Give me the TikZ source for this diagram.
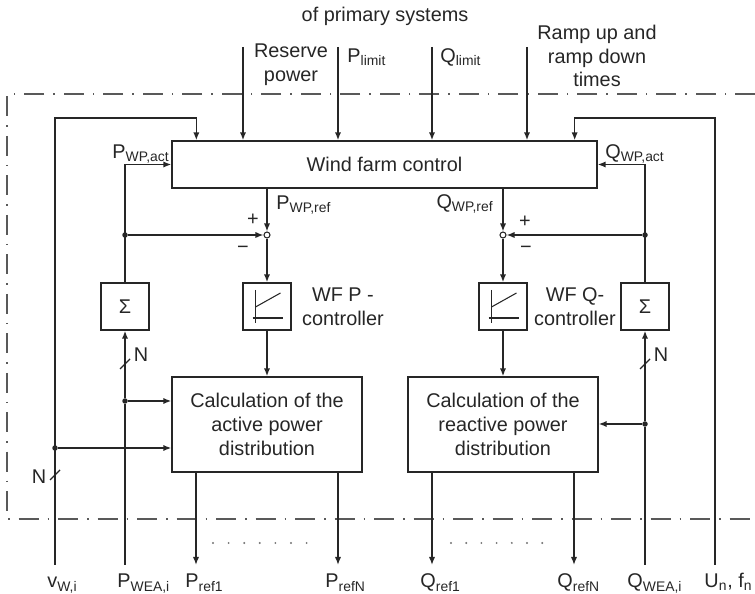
\documentclass[tikz,border=0pt]{standalone}
\usepackage{fontspec}
\setmainfont{Liberation Sans}
\usetikzlibrary{arrows.meta, positioning, calc}

\begin{document}
\begin{tikzpicture}[
    x=0.02cm, y=-0.02cm,
    color=black!85,
    font=\fontsize{11.3}{13.5}\selectfont,
    line width=0.8pt,
    box/.style={draw, align=center, inner sep=0pt},
    calcbox/.style={box, minimum width=3.8cm, minimum height=1.9cm},
    smallbox/.style={box, minimum width=0.96cm, minimum height=0.94cm},
    junct/.style={draw, circle, fill=white, minimum size=0.12cm, inner sep=0pt, line width=0.6pt},
    dot/.style={circle, fill, minimum size=0.11cm, inner sep=0pt},
    lbl/.style={inner sep=1pt, align=center},
    arrow/.style={-{Latex[length=1.6mm, width=1.25mm]}},
    frame/.style={draw=black!65, line width=0.9pt, dash pattern=on 0.4cm off 0.18cm on 0.03cm off 0.18cm}
]
\useasboundingbox (0,0) rectangle (755,594);

% system border
\draw[frame] (755,94) -- (7,94) -- (7,519) -- (755,519);

% blocks
\node[box, minimum width=8.5cm, minimum height=0.94cm] (wfc) at (384.5,164.5) {Wind farm control};
\node[junct] (jP) at (267,235) {};
\node[junct] (jQ) at (503,235) {};
\node[smallbox] (ctrlP) at (267,306.5) {};
\node[smallbox] (ctrlQ) at (503,306.5) {};
\node[smallbox] (sumP) at (125,306.5) {Σ};
\node[smallbox] (sumQ) at (645,306.5) {Σ};
\node[calcbox] (calcP) at (267,424.5) {Calculation of the\\active power\\distribution};
\node[calcbox] (calcQ) at (503,424.5) {Calculation of the\\reactive power\\distribution};

\node[lbl, right=0.16cm of ctrlP] (ctrlPL) {WF P -\\controller};
\node[lbl, right=0.08cm of ctrlQ] (ctrlQL) {WF Q-\\controller};

% controller symbol
\foreach \c in {ctrlP, ctrlQ} {
    \draw[line width=0.6pt] ($(\c)+(-11.5,-16.5)$) -- ($(\c)+(-11.5,16.5)$);
    \draw[line width=0.6pt] ($(\c)+(-14.5,11.5)$) -- ($(\c)+(16,11.5)$);
    \draw[line width=0.6pt] ($(\c)+(-11.5,0.5)$) -- ($(\c)+(13.5,-13.5)$);
}

% inputs from above
\coordinate (res) at (243,47);
\coordinate (plim) at (338,47);
\coordinate (qlim) at (432,47);
\coordinate (ramp) at (527,47);
\draw[arrow] (res) -- (res |- wfc.north);
\draw[arrow] (plim) -- (plim |- wfc.north);
\draw[arrow] (qlim) -- (qlim |- wfc.north);
\draw[arrow] (ramp) -- (ramp |- wfc.north);

\node[lbl] (primL) at (385,16) {of primary systems};
\node[lbl] (resL) at (291,65) {Reserve\\power};
\node[lbl, anchor=west] (plimL) at (345,57) {P\textsubscript{limit}};
\node[lbl, anchor=west] (qlimL) at (438,57) {Q\textsubscript{limit}};
\node[lbl] (rampL) at (597,56) {Ramp up and\\ramp down\\times};

% measured values at the bottom
\coordinate (vw) at (55,565);
\coordinate (pwea) at (125,565);
\coordinate (qwea) at (645,565);
\coordinate (unf) at (715,565);
\coordinate (vwtop) at (55,118);
\coordinate (unftop) at (715,118);
\node[dot] (dV) at (55,448) {};
\node[dot] (dP1) at (125,235) {};
\node[dot] (dP2) at (125,401) {};
\node[dot] (dQ1) at (645,235) {};
\node[dot] (dQ2) at (645,424) {};

\draw[arrow] (vw) -- (vwtop) -| ([xshift=0.5cm]wfc.north west);
\draw[arrow] (unf) -- (unftop) -| ([xshift=-0.46cm]wfc.north east);
\draw[arrow] (dV) -- (dV -| calcP.west);

\draw (pwea) -- (dP2);
\draw[arrow] (dP2) -- (sumP);
\draw[arrow] (dP2) -- (dP2 -| calcP.west);
\draw[arrow] (sumP.north) |- (wfc.west);
\draw[arrow] (dP1) -- (jP);

\draw (qwea) -- (dQ2);
\draw[arrow] (dQ2) -- (sumQ);
\draw[arrow] (dQ2) -- (dQ2 -| calcQ.east);
\draw[arrow] (sumQ.north) |- (wfc.east);
\draw[arrow] (dQ1) -- (jQ);

% N-fold signals
\foreach \x/\y in {125/364, 645/364, 55/475}
    \draw (\x-5,\y+5) -- (\x+5,\y-5);
\node[lbl] (nP) at (141,355) {N};
\node[lbl] (nQ) at (661,355) {N};
\node[lbl] (nV) at (39,477) {N};

% reference path
\draw[arrow] (jP |- wfc.south) -- (jP);
\draw[arrow] (jP) -- (ctrlP);
\draw[arrow] (ctrlP) -- (calcP);
\draw[arrow] (jQ |- wfc.south) -- (jQ);
\draw[arrow] (jQ) -- (ctrlQ);
\draw[arrow] (ctrlQ) -- (calcQ);

\node[lbl] (pactL) at (141,154) {P\textsubscript{WP,act}};
\node[lbl] (qactL) at (635,154) {Q\textsubscript{WP,act}};
\node[lbl, anchor=west] (prefL) at (274,205) {P\textsubscript{WP,ref}};
\node[lbl, anchor=east] (qrefL) at (496,204) {Q\textsubscript{WP,ref}};
\node[lbl] (plusP) at (253,220) {+};
\node[lbl] (minP) at (243,250) {−};
\node[lbl] (plusQ) at (525,222) {+};
\node[lbl] (minQ) at (526,250) {−};

% outputs
\coordinate (pr1) at (196,565);
\coordinate (prN) at (338,565);
\coordinate (qr1) at (432,565);
\coordinate (qrN) at (574,565);
\draw[arrow] (pr1 |- calcP.south) -- (pr1);
\draw[arrow] (prN |- calcP.south) -- (prN);
\draw[arrow] (qr1 |- calcQ.south) -- (qr1);
\draw[arrow] (qrN |- calcQ.south) -- (qrN);
\foreach \i in {0,...,6} {
    \fill[black!55] (213+\i*15.6,543) circle (0.6pt);
    \fill[black!55] (451+\i*15.2,543) circle (0.6pt);
}

\node[lbl, anchor=base west] (vwL) at (45,588) {v\textsubscript{W,i}};
\node[lbl, anchor=base west] (pweaL) at (115,588) {P\textsubscript{WEA,i}};
\node[lbl, anchor=base west] (pr1L) at (183,588) {P\textsubscript{ref1}};
\node[lbl, anchor=base west] (prNL) at (323,588) {P\textsubscript{refN}};
\node[lbl, anchor=base west] (qr1L) at (418,588) {Q\textsubscript{ref1}};
\node[lbl, anchor=base west] (qrNL) at (555,588) {Q\textsubscript{refN}};
\node[lbl, anchor=base west] (qweaL) at (625,588) {Q\textsubscript{WEA,i}};
\node[lbl, anchor=base west] (unfL) at (702,588) {U\textsubscript{n}, f\textsubscript{n}};
\end{tikzpicture}
\end{document}
